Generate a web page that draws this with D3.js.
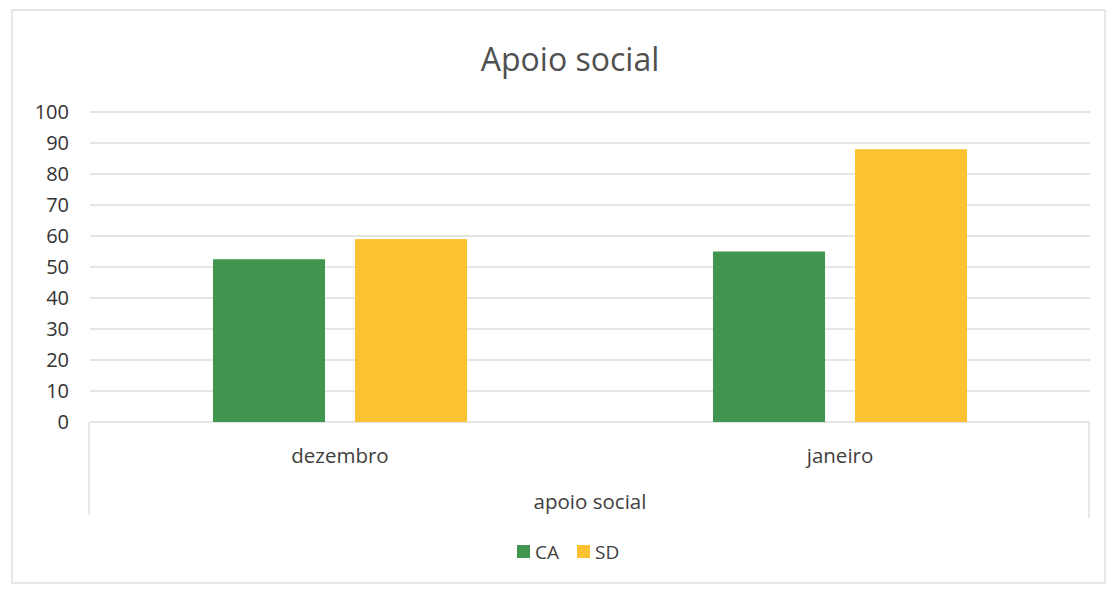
<!DOCTYPE html>
<html><head><meta charset="utf-8">
<script src="https://cdn.jsdelivr.net/npm/d3@7"></script>
<style>body{margin:0;background:#fff}svg{display:block}text{font-family:"Open Sans",sans-serif}</style>
</head><body>
<svg id="c" width="1112" height="591"></svg>
<script>
const categories = ["dezembro", "janeiro"];
const seriesNames = ["CA", "SD"];
const caValues = [52.5, 55];
const sdValues = [59, 88];
const yTicks = [0, 10, 20, 30, 40, 50, 60, 70, 80, 90, 100];
const colors = {CA: "#41954f", SD: "#fbc232"};

const svg = d3.select("#c");
// frame
svg.append("rect").attr("x", 12).attr("y", 10).attr("width", 1093).attr("height", 573)
  .attr("fill", "#fff").attr("stroke", "#e0e0e0").attr("stroke-width", 1.5);

const x0 = d3.scaleBand().domain(categories).range([90, 1090]);
const x1 = d3.scaleBand().domain(seriesNames).range([0, x0.bandwidth()]).paddingInner(0.211).paddingOuter(0.866);
const y = d3.scaleLinear().domain([0, 100]).range([422, 112]);

// gridlines
svg.append("g").selectAll("line").data(yTicks).join("line")
  .attr("x1", 90).attr("x2", 1090)
  .attr("y1", d => y(d)).attr("y2", d => y(d))
  .attr("stroke", "#dcdcdc").attr("stroke-width", 1.5);

// y axis labels
const yAxis = d3.axisLeft(y).tickValues(yTicks).tickSize(0).tickPadding(0);
const ya = svg.append("g").attr("transform", "translate(69,0)").call(yAxis);
ya.select(".domain").remove();
ya.selectAll("text").attr("font-size", 20).attr("fill", "#333").style("font-family", "'Open Sans',sans-serif");

// bottom box
svg.append("path").attr("d", `M89,${y(0)}V515M1089,${y(0)}V518`)
  .attr("stroke", "#e2e2e2").attr("stroke-width", 1.5).attr("fill", "none");

// bars
const data = categories.map((c, i) => ({cat: c, vals: [{s: "CA", v: caValues[i]}, {s: "SD", v: sdValues[i]}]}));
const g = svg.append("g").selectAll("g").data(data).join("g")
  .attr("transform", d => `translate(${x0(d.cat)},0)`);
g.selectAll("rect").data(d => d.vals).join("rect")
  .attr("x", d => x1(d.s)).attr("width", x1.bandwidth())
  .attr("y", d => y(d.v)).attr("height", d => y(0) - y(d.v))
  .attr("fill", d => colors[d.s]);

// x axis labels
const xAxis = d3.axisBottom(x0).tickSize(0).tickPadding(0);
const xa = svg.append("g").attr("transform", "translate(0,448)").call(xAxis);
xa.select(".domain").remove();
xa.selectAll("text").attr("font-size", 20.5).attr("fill", "#404040").attr("dy", "0.71em").style("font-family", "'Open Sans',sans-serif");

// axis title
svg.append("text").attr("x", 590).attr("y", 509).attr("text-anchor", "middle")
  .attr("font-size", 20.5).attr("fill", "#404040").text("apoio social");

// title
svg.append("text").attr("x", 570).attr("y", 71).attr("text-anchor", "middle")
  .attr("font-size", 32).attr("fill", "#505050").text("Apoio social");

// legend
const leg = svg.append("g");
const legItems = [{s: "CA", x: 517}, {s: "SD", x: 577}];
legItems.forEach(it => {
  leg.append("rect").attr("x", it.x).attr("y", 545).attr("width", 13).attr("height", 13).attr("fill", colors[it.s]);
  leg.append("text").attr("x", it.x + 18).attr("y", 559).attr("font-size", 19).attr("fill", "#404040").text(it.s);
});
</script>
</body></html>
